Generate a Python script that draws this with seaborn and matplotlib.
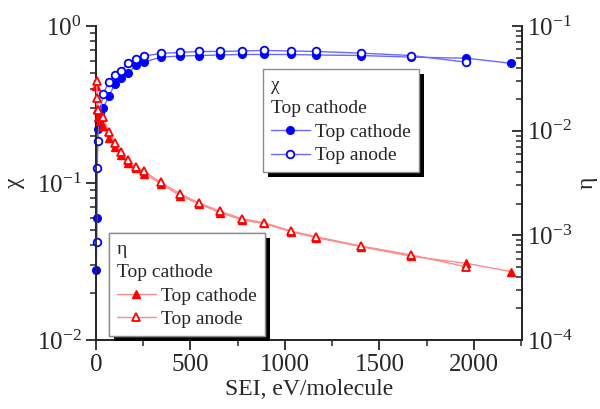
import matplotlib
matplotlib.use("Agg")
import matplotlib.pyplot as plt
from matplotlib.lines import Line2D
from matplotlib.patches import Rectangle
from matplotlib.transforms import IdentityTransform
from matplotlib.ticker import LogLocator, MultipleLocator, NullFormatter
import seaborn as sns

# chi (left axis), blue
chi_cath_x = [2, 4, 8, 21, 37, 69, 100, 132, 169, 212, 254, 344, 444, 545, 656, 772, 889, 1032, 1164, 1402, 1667, 1958, 2196]
chi_cath = [0.028, 0.060, 0.22, 0.28, 0.30, 0.358, 0.43, 0.47, 0.50, 0.565, 0.59, 0.635, 0.645, 0.65, 0.655, 0.66, 0.66, 0.66, 0.655, 0.65, 0.635, 0.625, 0.58]
chi_anod_x = [3, 6, 10, 16, 37, 69, 100, 132, 169, 212, 254, 344, 444, 545, 656, 772, 889, 1032, 1164, 1402, 1667, 1958]
chi_anod = [0.042, 0.125, 0.186, 0.25, 0.37, 0.44, 0.49, 0.52, 0.58, 0.62, 0.645, 0.67, 0.68, 0.69, 0.69, 0.695, 0.70, 0.695, 0.69, 0.673, 0.65, 0.59]

# eta (right axis), red
eta_cath_x = [2, 5, 10, 21, 37, 69, 100, 132, 169, 212, 254, 344, 444, 545, 656, 772, 889, 1032, 1164, 1402, 1667, 1958, 2196]
eta_cath = [0.027, 0.016, 0.0135, 0.0125, 0.011, 0.0085, 0.0070, 0.0059, 0.0049, 0.0044, 0.0039, 0.0031, 0.0024, 0.0020, 0.00165, 0.0014, 0.0013, 0.00108, 0.00095, 0.00078, 0.00063, 0.00054, 0.00045]
eta_anod_x = [3, 6, 12, 37, 69, 100, 132, 169, 212, 254, 344, 444, 545, 656, 772, 889, 1032, 1164, 1402, 1667, 1958]
eta_anod = [0.030, 0.0205, 0.0158, 0.0135, 0.0097, 0.0076, 0.0063, 0.0052, 0.0045, 0.0041, 0.0032, 0.0025, 0.00204, 0.0017, 0.00144, 0.00132, 0.0011, 0.00097, 0.00079, 0.00065, 0.00050]

sns.set_style("ticks")
plt.rcParams['font.family'] = ['Liberation Serif', 'DejaVu Serif']
plt.rcParams['mathtext.fontset'] = 'custom'
plt.rcParams['mathtext.rm'] = 'Liberation Serif'
plt.rcParams['mathtext.it'] = 'Liberation Serif:italic'

BLUE, BLUE_L = "#0000ff", "#6a6aff"
RED, RED_L = "#ff0000", "#ff8a8a"

fig = plt.figure(figsize=(6, 4.09), dpi=100)
ax = fig.add_axes([0.16, 0.169, 0.71, 0.767])
ax2 = ax.twinx()

kw = dict(lw=1, markersize=5.5, clip_on=False, zorder=3)
sns.lineplot(x=chi_cath_x, y=chi_cath, ax=ax, color=BLUE_L, marker="o",
             mec=BLUE, mfc=BLUE, mew=1, sort=False, **kw)
sns.lineplot(x=chi_anod_x, y=chi_anod, ax=ax, color=BLUE_L, marker="o",
             mec=BLUE, mfc="white", mew=1.3, sort=False, **kw)
sns.lineplot(x=eta_cath_x, y=eta_cath, ax=ax2, color=RED_L, marker="^",
             mec=RED, mfc=RED, mew=1, sort=False, **kw)
sns.lineplot(x=eta_anod_x, y=eta_anod, ax=ax2, color=RED_L, marker="^",
             mec=RED, mfc="white", mew=1.3, sort=False, **kw)

ax.set_xlim(0, 2254)
ax.set_yscale("log")
ax.set_ylim(1e-2, 1)
ax2.set_yscale("log")
ax2.set_ylim(1e-4, 1e-1)

ax.xaxis.set_major_locator(MultipleLocator(500))
ax.xaxis.set_minor_locator(MultipleLocator(250))
for a in (ax, ax2):
    a.yaxis.set_major_locator(LogLocator(base=10))
    a.yaxis.set_minor_locator(LogLocator(base=10, subs=range(2, 10)))
    a.yaxis.set_minor_formatter(NullFormatter())
    a.spines["top"].set_visible(False)
    for s in a.spines.values():
        s.set_linewidth(1.3)

ax.tick_params(axis="both", which="major", direction="out", length=7, width=1.3, labelsize=18)
ax.tick_params(axis="both", which="minor", direction="out", length=4, width=1.1)
ax2.tick_params(axis="y", which="major", direction="in", length=7, width=1.3, labelsize=18)
ax2.tick_params(axis="y", which="minor", direction="in", length=4, width=1.1)

ax.set_xlabel("SEI, eV/molecule", fontsize=17, labelpad=2)
ax.set_ylabel("χ", fontsize=17, labelpad=8)
ax2.set_ylabel("η", fontsize=17, labelpad=3)

# legends
h_chi = [Line2D([], [], color=BLUE_L, lw=1, marker="o", ms=5.5, mec=BLUE, mfc=BLUE),
         Line2D([], [], color=BLUE_L, lw=1, marker="o", ms=5.5, mec=BLUE, mfc="white", mew=1.3)]
h_eta = [Line2D([], [], color=RED_L, lw=1, marker="^", ms=6, mec=RED, mfc=RED),
         Line2D([], [], color=RED_L, lw=1, marker="^", ms=6, mec=RED, mfc="white", mew=1.3)]
labels = ["Top cathode", "Top anode"]

legs = []
for handles, title, anchor in [(h_chi, "χ\nTop cathode", (0.392, 0.863)),
                               (h_eta, "η\nTop cathode", (0.0305, 0.341))]:
    leg = ax2.legend(handles, labels, title=title, loc="upper left",
                     bbox_to_anchor=anchor, borderaxespad=0, fontsize=14,
                     title_fontsize=14, alignment="left", fancybox=False,
                     framealpha=1, edgecolor="#8c8c8c", handlelength=2.0,
                     handletextpad=0.3, labelspacing=0.3, borderpad=0.4)
    leg.get_frame().set_linewidth(1)
    leg.get_title().set_linespacing(1.5)
    ax2.add_artist(leg)
    legs.append(leg)

fig.canvas.draw()
for leg in legs:
    bb = leg.get_frame().get_window_extent()
    ax2.add_artist(Rectangle((bb.x0 + 5, bb.y0 - 5), bb.width, bb.height,
                             transform=IdentityTransform(), fc="black", ec="none",
                             zorder=leg.get_zorder() - 0.1, clip_on=False))

fig.savefig("out.png", dpi=100)
